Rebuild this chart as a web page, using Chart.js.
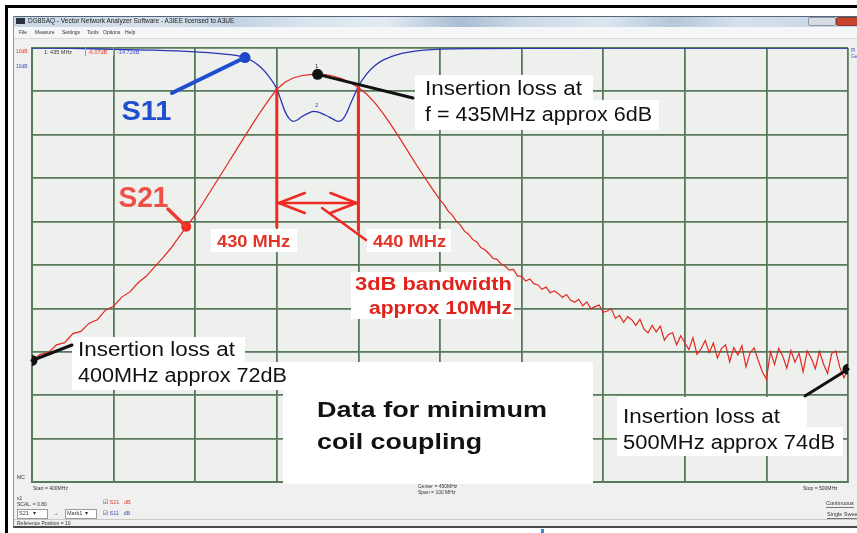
<!DOCTYPE html>
<html>
<head>
<meta charset="utf-8">
<script src="https://cdn.jsdelivr.net/npm/chart.js@4.4.1/dist/chart.umd.min.js"></script>
<style>
  html, body { margin: 0; padding: 0; }
  body { width: 857px; height: 533px; position: relative; overflow: hidden; background: #fff;
         font-family: "Liberation Sans", Arial, sans-serif; }
  .abs { position: absolute; }
  .t { position: absolute; font-size: 6px; line-height: 7px; white-space: nowrap; color: #333; z-index: 3; }
  #chart { position: absolute; left: 0; top: 0; z-index: 2; }
</style>
</head>
<body>
<!-- outer frame -->
<div class="abs" style="left:5px;top:5px;width:852px;height:3px;background:#000"></div>
<div class="abs" style="left:5px;top:5px;width:3px;height:528px;background:#000"></div>

<!-- analyser window -->
<div class="abs" style="left:13px;top:16px;width:844px;height:510px;background:#f0f0f0;border-left:1px solid #8793a0;border-bottom:2px solid #4a4a4a"></div>
<div class="abs" style="left:14px;top:16px;width:843px;height:10px;border-top:1px solid #55677a;
     background:linear-gradient(90deg,#c9d6e4 0%,#d7e1ec 18%,#c1d0e0 26%,#d9e3ee 34%,#e3eaf2 44%,#a9bdd3 53%,#cbd8e6 60%,#dde6f0 70%,#b5c7da 78%,#d6e0ec 86%,#c7d4e3 100%)"></div>
<div class="abs" style="left:16px;top:18px;width:9px;height:6px;background:#2a3140"></div>
<div class="t" style="left:28px;top:17px;font-size:6.5px;color:#222">DG8SAQ - Vector Network Analyzer Software - A3IEE licensed to A3UE</div>
<div class="abs" style="left:808px;top:17px;width:26px;height:7px;background:#d8dde4;border:1px solid #8a96a4;border-radius:2px"></div>
<div class="abs" style="left:836px;top:17px;width:21px;height:7px;background:#c7442f;border:1px solid #8a3a30;border-radius:2px"></div>

<!-- menu bar -->
<div class="abs" style="left:14px;top:27px;width:843px;height:11px;background:#f5f6f7;border-bottom:1px solid #dadada"></div>
<div class="t" style="left:19px;top:29px;font-size:5px">File</div>
<div class="t" style="left:35px;top:29px;font-size:5px">Measure</div>
<div class="t" style="left:62px;top:29px;font-size:5px">Settings</div>
<div class="t" style="left:87px;top:29px;font-size:5px">Tools</div>
<div class="t" style="left:103px;top:29px;font-size:5px">Options</div>
<div class="t" style="left:125px;top:29px;font-size:5px">Help</div>

<!-- trace scale legends and marker readout -->
<div class="t" style="left:16px;top:48px;font-size:5px;color:#e0402f">10dB</div>
<div class="t" style="left:16px;top:63px;font-size:5px;color:#3a4fc8">10dB</div>
<div class="t" style="left:44px;top:49px;font-size:5.5px;color:#333">1: 435 MHz</div>
<div class="abs" style="left:85px;top:47px;width:1px;height:9px;background:#9a9a9a;z-index:3"></div>
<div class="t" style="left:88px;top:49px;font-size:5.5px;color:#e0402f">-6.07dB</div>
<div class="abs" style="left:113px;top:47px;width:1px;height:9px;background:#9a9a9a;z-index:3"></div>
<div class="t" style="left:117px;top:49px;font-size:5.5px;color:#3a4fc8">-14.72dB</div>
<div class="t" style="left:851px;top:47px;font-size:5px;color:#3a4fc8">Pl</div>
<div class="t" style="left:851px;top:53px;font-size:5px;color:#3a4fc8">Ge</div>

<!-- sweep info under the grid -->
<div class="t" style="left:17px;top:474px;font-size:5px">MC</div>
<div class="t" style="left:33px;top:485px;font-size:5px">Start = 400MHz</div>
<div class="t" style="left:418px;top:483px;font-size:5px">Center = 450MHz</div>
<div class="t" style="left:418px;top:489px;font-size:5px">Span = 100 MHz</div>
<div class="t" style="left:803px;top:485px;font-size:5px">Stop = 500MHz</div>

<!-- lower control strip -->
<div class="t" style="left:17px;top:495px;font-size:5px">x1</div>
<div class="t" style="left:17px;top:501px;font-size:5px">SCAL. = 0.80</div>
<div class="abs" style="left:17px;top:509px;width:29px;height:8px;background:#fff;border:1px solid #9a9a9a;z-index:3"></div>
<div class="t" style="left:19px;top:510px;font-size:5.5px">S21 &nbsp;&nbsp;▾</div>
<div class="t" style="left:53px;top:510px;font-size:5.5px">→</div>
<div class="abs" style="left:65px;top:509px;width:30px;height:8px;background:#fff;border:1px solid #9a9a9a;z-index:3"></div>
<div class="t" style="left:67px;top:510px;font-size:5.5px">Mark1 &nbsp;▾</div>
<div class="t" style="left:103px;top:499px;font-size:5.5px">☑ <span style="color:#e0402f">S21 &nbsp;&nbsp;dB</span></div>
<div class="t" style="left:103px;top:510px;font-size:5.5px">☑ <span style="color:#3a4fc8">S11 &nbsp;&nbsp;dB</span></div>
<div class="abs" style="left:14px;top:519px;width:843px;height:1px;background:#c8c8c8"></div>
<div class="t" style="left:17px;top:520px;font-size:5px">Reference Position = 10</div>
<div class="t" style="left:826px;top:500px;font-size:5.5px;border-bottom:1px solid #777">Continuous</div>
<div class="t" style="left:827px;top:511px;font-size:5.5px;border-bottom:1px solid #777">Single Sweep</div>
<div class="abs" style="left:541px;top:529px;width:3px;height:4px;background:#2f8fd0"></div>

<canvas id="chart" width="857" height="533"></canvas>

<script>
// Sweep points (MHz) and transmission S21 (dB)
const freqS21 = [
  400,401,402,403,404,405,406,407,408,409,
  410,411,412,413,414,415,416,417,418,419,
  420,421,422,423,424,425,426,427,428,429,
  430,431,432,433,434,435,436,437,438,439,
  440,441,442,443,444,445,446,447,448,449,
  450,450.5,451,451.5,452,452.5,453,453.5,454,454.5,
  455,455.5,456,456.5,457,457.5,458,458.5,459,459.5,
  460,460.5,461,461.5,462,462.5,463,463.5,464,464.5,
  465,465.5,466,466.5,467,467.5,468,468.5,469,469.5,
  470,470.5,471,471.5,472,472.5,473,473.5,474,474.5,
  475,475.5,476,476.5,477,477.5,478,478.5,479,479.5,
  480,480.5,481,481.5,482,482.5,483,483.5,484,484.5,
  485,485.5,486,486.5,487,487.5,488,488.5,489,489.5,
  490,490.5,491,491.5,492,492.5,493,493.5,494,494.5,
  495,495.5,496,496.5,497,497.5,498,498.5,499,499.5,
  500
];
const s21dB = [
  -72.0,-70.6,-70.2,-68.4,-67.9,-65.8,-65.3,-63.4,-62.6,-60.4,
  -59.5,-57.4,-56.2,-54.1,-52.6,-50.5,-48.4,-46.2,-43.6,-41.0,
  -38.5,-35.6,-32.6,-29.6,-26.6,-23.6,-20.6,-17.6,-14.7,-12.0,
  -9.5,-7.9,-6.9,-6.4,-6.15,-6.07,-6.15,-6.5,-7.1,-8.0,
  -9.1,-10.6,-12.6,-15.0,-17.7,-20.6,-23.6,-26.6,-29.5,-32.3,
  -35.0,-36.1,-37.6,-38.5,-39.9,-40.8,-42.2,-42.9,-44.1,-44.7,
  -46.0,-46.5,-47.4,-48.5,-48.7,-49.8,-50.3,-51.2,-51.0,-52.5,
  -52.6,-53.7,-53.2,-54.3,-54.6,-55.6,-55.1,-56.4,-56.0,-56.6,
  -57.5,-56.8,-58.1,-58.6,-57.9,-59.4,-58.5,-60.1,-59.6,-59.2,
  -60.9,-60.6,-60.1,-62.3,-61.6,-63.2,-61.9,-62.6,-63.9,-62.5,
  -64.8,-65.6,-63.9,-65.4,-64.1,-67.3,-66.0,-65.6,-68.4,-66.3,
  -67.9,-69.5,-66.8,-70.6,-69.3,-67.4,-70.2,-68.0,-71.4,-69.2,
  -68.4,-72.3,-69.0,-70.7,-68.6,-73.5,-70.2,-69.1,-72.0,-74.6,
  -76.3,-70.0,-72.9,-69.2,-71.0,-73.8,-69.7,-72.4,-70.3,-74.6,
  -69.8,-71.5,-73.9,-69.9,-72.8,-75.0,-70.4,-69.8,-73.6,-76.0,
  -74.0
];

// Reflection S11 (dB)
const freqS11 = [400,405,410,415,420,423,425,426,427,428,429,430,430.5,431,431.5,432,432.5,433,434,434.5,
                 435,436,437,437.5,438,438.5,439,439.5,440,441,442,443,444,445,446,448,450,455,460,470,480,490,500];
const s11dB   = [0,-0.1,-0.3,-0.5,-0.9,-1.3,-1.7,-2.1,-3.0,-4.4,-6.5,-9.4,-12.0,-14.6,-16.2,-16.9,-16.6,-15.9,-14.9,-14.6,
                 -14.7,-15.5,-16.5,-16.9,-16.6,-15.2,-13.0,-10.9,-8.8,-6.0,-4.1,-2.8,-2.0,-1.4,-1.0,-0.5,-0.25,-0.15,-0.1,-0.05,0,0,0];

// Marked readings
const lossMarkMHz = [400, 435, 500];
const lossMarkDb  = [-72, -6.07, -74];
const s21TagMHz = [418.9];
const s21TagDb  = [-41.2];
const s11TagMHz = [426.1];
const s11TagDb  = [-2.2];
const bandEdgesMHz = [430, 440];

// Axis ranges
const freqRange = [400, 500];
const dbRange = [-100, 0];
const freqStep = 10;
const dbStep = 10;

const pts = (xs, ys) => xs.map((v, i) => ({ x: v, y: ys[i] }));

const GRID = '#58795a';
const RED = '#e3261f';
const BLUE = '#2a36b4';

const plotBackground = {
  id: 'plotBackground',
  beforeDraw(chart) {
    const { ctx, chartArea: a } = chart;
    ctx.save();
    ctx.fillStyle = '#eef0ed';
    ctx.fillRect(a.left, a.top, a.right - a.left, a.bottom - a.top);
    ctx.restore();
  }
};

function stretchText(ctx, str, x, y, font, color, width) {
  ctx.save();
  ctx.font = font;
  const w = ctx.measureText(str).width;
  const sx = width ? width / w : 1;
  ctx.translate(x, y);
  ctx.scale(sx, 1);
  ctx.fillStyle = color;
  ctx.textBaseline = 'alphabetic';
  ctx.textAlign = 'left';
  ctx.fillText(str, 0, 0);
  ctx.restore();
}

function seg(ctx, x1, y1, x2, y2, color, w) {
  ctx.beginPath();
  ctx.moveTo(x1, y1);
  ctx.lineTo(x2, y2);
  ctx.strokeStyle = color;
  ctx.lineWidth = w;
  ctx.lineCap = 'round';
  ctx.stroke();
}

const callouts = {
  id: 'callouts',
  afterDatasetsDraw(chart) {
    const { ctx, scales: { x, y } } = chart;
    const px = v => x.getPixelForValue(v);
    const py = v => y.getPixelForValue(v);
    ctx.save();

    // white label backgrounds
    ctx.fillStyle = '#ffffff';
    [[415, 75, 178, 26], [415, 100, 244, 30],
     [72, 337, 173, 25], [72, 362, 222, 28],
     [617, 397, 190, 31], [617, 427, 226, 29],
     [283, 362, 310, 122],
     [211, 229, 86, 23], [367, 229, 84, 23],
     [351, 272, 163, 47]].forEach(b => ctx.fillRect(b[0], b[1], b[2], b[3]));

    // pass-band edges and bandwidth arrow
    const s21At = f => s21dB[freqS21.indexOf(f)];
    const xa = px(bandEdgesMHz[0]), xb = px(bandEdgesMHz[1]);
    seg(ctx, xa, py(s21At(bandEdgesMHz[0])), xa, 227, '#ee2a22', 3);
    seg(ctx, xb, py(s21At(bandEdgesMHz[1])), xb, 230, '#ee2a22', 3);
    const ay = 203;
    seg(ctx, xa + 2, ay, xb - 2, ay, '#ee2a22', 2.5);
    seg(ctx, xa + 2, ay, xa + 28, ay - 10, '#ee2a22', 2.5);
    seg(ctx, xa + 2, ay, xa + 28, ay + 10, '#ee2a22', 2.5);
    seg(ctx, xb - 2, ay, xb - 28, ay - 10, '#ee2a22', 2.5);
    seg(ctx, xb - 2, ay, xb - 28, ay + 10, '#ee2a22', 2.5);
    seg(ctx, 322, 208, 366, 240, '#ee2a22', 2.5);

    // pointers to marked readings
    seg(ctx, 172, 93, px(s11TagMHz[0]), py(s11TagDb[0]), '#1f4fcf', 4);
    seg(ctx, 168, 209, px(s21TagMHz[0]), py(s21TagDb[0]), '#ef3a30', 3.5);
    seg(ctx, px(lossMarkMHz[1]), py(lossMarkDb[1]), 413, 98, '#111', 3);
    seg(ctx, px(lossMarkMHz[0]), py(lossMarkDb[0]), 72, 345, '#111', 3);
    seg(ctx, px(lossMarkMHz[2]), py(lossMarkDb[2]), 805, 396, '#111', 3);

    // text
    const F = '"Liberation Sans", Arial, sans-serif';
    stretchText(ctx, 'Insertion loss at', 425, 94.5, '20px ' + F, '#111', 157);
    stretchText(ctx, 'f = 435MHz approx 6dB', 425, 121, '20px ' + F, '#111', 227);
    stretchText(ctx, 'Insertion loss at', 78, 356, '20px ' + F, '#111', 157);
    stretchText(ctx, '400MHz approx 72dB', 78, 381.5, '20px ' + F, '#111', 209);
    stretchText(ctx, 'Insertion loss at', 623, 422.5, '20px ' + F, '#111', 157);
    stretchText(ctx, '500MHz approx 74dB', 623, 449, '20px ' + F, '#111', 212);
    stretchText(ctx, 'Data for minimum', 317, 417, 'bold 22px ' + F, '#111', 230);
    stretchText(ctx, 'coil coupling', 317, 449, 'bold 22px ' + F, '#111', 165);
    stretchText(ctx, '430 MHz', 217, 247, 'bold 16px ' + F, '#e03526', 73);
    stretchText(ctx, '440 MHz', 373, 247, 'bold 16px ' + F, '#e03526', 73);
    stretchText(ctx, '3dB bandwidth', 355, 290, 'bold 18px ' + F, '#e0231b', 157);
    stretchText(ctx, 'approx 10MHz', 369, 314, 'bold 18px ' + F, '#e0231b', 143);
    stretchText(ctx, 'S11', 121.5, 120, 'bold 28px ' + F, '#1f4fcf', 50);
    stretchText(ctx, 'S21', 118.5, 206.5, 'bold 29px ' + F, '#ef4f45', 50);
    stretchText(ctx, '1', 315, 68, '6px ' + F, '#333', null);
    stretchText(ctx, '2', 315, 107, '6px ' + F, '#3a4fc8', null);
    ctx.restore();
  }
};

new Chart(document.getElementById('chart'), {
  type: 'line',
  data: {
    datasets: [
      { label: 'S11', data: pts(freqS11, s11dB), borderColor: BLUE, borderWidth: 1.3,
        pointRadius: 0, cubicInterpolationMode: 'monotone', order: 4 },
      { label: 'S21', data: pts(freqS21, s21dB), borderColor: RED, borderWidth: 1.2,
        pointRadius: 0, tension: 0, order: 3 },
      { label: 'Loss markers', data: pts(lossMarkMHz, lossMarkDb), showLine: false,
        pointRadius: 5.5, pointBackgroundColor: '#111', pointBorderWidth: 0, order: 1 },
      { label: 'S21 tag', data: pts(s21TagMHz, s21TagDb), showLine: false,
        pointRadius: 5, pointBackgroundColor: '#f02a22', pointBorderWidth: 0, order: 1 },
      { label: 'S11 tag', data: pts(s11TagMHz, s11TagDb), showLine: false,
        pointRadius: 5.5, pointBackgroundColor: '#1f45c0', pointBorderWidth: 0, order: 1 }
    ]
  },
  options: {
    responsive: false,
    animation: false,
    events: [],
    layout: { padding: { left: 32, top: 48, right: 9, bottom: 51 } },
    plugins: { legend: { display: false }, tooltip: { enabled: false } },
    scales: {
      x: { type: 'linear', min: freqRange[0], max: freqRange[1],
           ticks: { display: false, stepSize: freqStep },
           grid: { color: GRID, lineWidth: 1.8, drawTicks: false },
           border: { display: true, color: GRID, width: 2 } },
      y: { type: 'linear', min: dbRange[0], max: dbRange[1],
           ticks: { display: false, stepSize: dbStep },
           grid: { color: GRID, lineWidth: 1.8, drawTicks: false },
           border: { display: true, color: GRID, width: 2 } }
    }
  },
  plugins: [plotBackground, callouts]
});
</script>
</body>
</html>
